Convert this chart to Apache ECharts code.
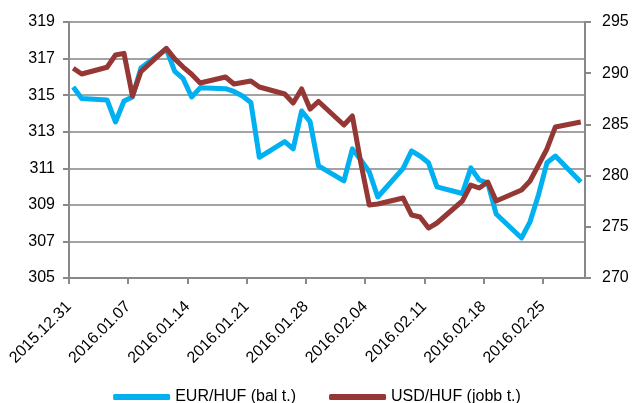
<!DOCTYPE html>
<html>
<head>
<meta charset="utf-8" />
<title>EUR/HUF, USD/HUF</title>
<script src="https://cdn.jsdelivr.net/npm/echarts@6/dist/echarts.min.js"></script>
<style>
  html, body { margin: 0; padding: 0; background: #fff; }
  #chart { width: 634px; height: 403px; }
</style>
</head>
<body>
<div id="chart"></div>
<script type="text/javascript">
// napi adatok (munkanapok)
var dates = ['2015.12.31', '2016.01.01', '2016.01.04', '2016.01.05', '2016.01.06', '2016.01.07', '2016.01.08',
  '2016.01.11', '2016.01.12', '2016.01.13', '2016.01.14', '2016.01.15',
  '2016.01.18', '2016.01.19', '2016.01.20', '2016.01.21', '2016.01.22',
  '2016.01.25', '2016.01.26', '2016.01.27', '2016.01.28', '2016.01.29',
  '2016.02.01', '2016.02.02', '2016.02.03', '2016.02.04', '2016.02.05',
  '2016.02.08', '2016.02.09', '2016.02.10', '2016.02.11', '2016.02.12',
  '2016.02.15', '2016.02.16', '2016.02.17', '2016.02.18', '2016.02.19',
  '2016.02.22', '2016.02.23', '2016.02.24', '2016.02.25', '2016.02.26',
  '2016.02.29'];

var eurHuf = [315.45, 314.82, 314.74, 313.53, 314.68, 314.9, 316.48,
  317.52, 316.3, 315.9, 314.9, 315.4,
  315.35, 315.2, 314.95, 314.6, 311.6,
  312.46, 312.06, 314.13, 313.55, 311.13,
  310.31, 312.06, 311.45, 310.8, 309.43,
  311.0, 311.95, 311.67, 311.3, 309.98,
  309.62, 311.02, 310.36, 310.2, 308.5,
  307.19, 308.07, 309.54, 311.3, 311.67,
  310.25];

var usdHuf = [290.48, 289.92, 290.58, 291.78, 291.94, 287.77, 290.15,
  292.43, 291.4, 290.6, 289.9, 289.04,
  289.63, 288.95, 289.1, 289.24, 288.65,
  287.97, 287.09, 288.46, 286.5, 287.24,
  284.94, 285.82, 281.23, 277.13, 277.23,
  277.81, 276.15, 275.96, 274.88, 275.37,
  277.52, 279.08, 278.79, 279.37, 277.52,
  278.59, 279.47, 281.03, 282.6, 284.75,
  285.23];

var seriesNames = ['EUR/HUF (bal t.)', 'USD/HUF (jobb t.)'];

var DAY = 86400000;
function parseDay(s) {
  var p = s.split('.');
  return Date.UTC(+p[0], +p[1] - 1, +p[2]);
}
var start = parseDay(dates[0]);
var endDay = (parseDay(dates[dates.length - 1]) - start) / DAY + 1;

// a pontok a nap közepére kerülnek (Excel dátumtengely)
function toPoints(vals) {
  var res = [];
  for (var i = 0; i < dates.length; i++) {
    res.push([(parseDay(dates[i]) - start) / DAY + 0.5, vals[i]]);
  }
  return res;
}
function pad(n) { return n < 10 ? '0' + n : '' + n; }
function dayLabel(v) {
  if (v % 7 !== 0) return '';
  var d = new Date(start + v * DAY);
  return d.getUTCFullYear() + '.' + pad(d.getUTCMonth() + 1) + '.' + pad(d.getUTCDate());
}

var font = 'Liberation Sans';
var axisGray = '#898989';

var myChart = echarts.init(document.getElementById('chart'));
var option = {
  backgroundColor: '#fff',
  animation: false,
  grid: { left: 69, right: 49, top: 22, bottom: 125 },
  legend: {
    left: 'center',
    top: 384,
    itemWidth: 57,
    itemHeight: 6,
    itemGap: 33,
    icon: 'roundRect',
    textStyle: { fontFamily: font, fontSize: 16, color: '#000' },
    data: seriesNames
  },
  xAxis: {
    type: 'value',
    min: 0,
    max: endDay,
    interval: 7,
    splitLine: { show: false },
    axisLine: { lineStyle: { color: axisGray, width: 2 } },
    axisTick: { length: 6, lineStyle: { color: axisGray, width: 2 } },
    axisLabel: {
      rotate: 45,
      margin: 26,
      padding: [30, 0, 0, 0],
      showMaxLabel: false,
      fontFamily: font,
      fontSize: 16,
      color: '#000',
      formatter: dayLabel
    }
  },
  yAxis: [
    {
      type: 'value',
      min: 305,
      max: 319,
      interval: 2,
      axisLine: { show: true, lineStyle: { color: axisGray, width: 2 } },
      axisTick: { show: true, length: 6, lineStyle: { color: axisGray, width: 2 } },
      splitLine: { lineStyle: { color: '#a3a3a3', width: 2 } },
      axisLabel: { margin: 14, fontFamily: font, fontSize: 16, color: '#000' }
    },
    {
      type: 'value',
      min: 270,
      max: 295,
      interval: 5,
      position: 'right',
      axisLine: { show: true, lineStyle: { color: axisGray, width: 2 } },
      axisTick: { show: true, length: 6, lineStyle: { color: axisGray, width: 2 } },
      splitLine: { show: false },
      axisLabel: { margin: 17, fontFamily: font, fontSize: 16, color: '#000' }
    }
  ],
  series: [
    {
      name: seriesNames[0],
      type: 'line',
      yAxisIndex: 0,
      data: toPoints(eurHuf),
      symbol: 'none',
      color: '#00b0f0',
      lineStyle: { width: 5, color: '#00b0f0', join: 'round' }
    },
    {
      name: seriesNames[1],
      type: 'line',
      yAxisIndex: 1,
      data: toPoints(usdHuf),
      symbol: 'none',
      color: '#953735',
      lineStyle: { width: 5, color: '#953735', join: 'round' }
    }
  ]
};
myChart.setOption(option);
</script>
</body>
</html>
